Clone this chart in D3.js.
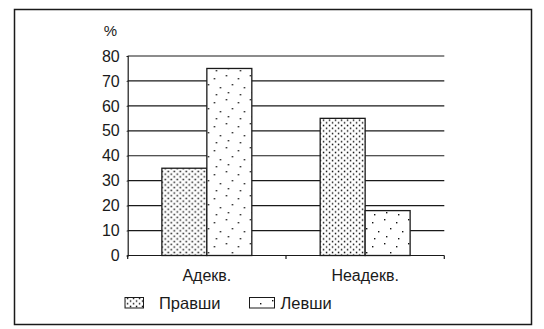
<!DOCTYPE html>
<html>
<head>
<meta charset="utf-8">
<script src="https://cdn.jsdelivr.net/npm/d3@7"></script>
<style>
  body { margin: 0; background: #fff; }
  text { font-family: "Liberation Sans", Arial, sans-serif; fill: #1a1a1a; }
</style>
</head>
<body>
<svg id="chart"></svg>
<script>
const width = 544;
const height = 329;

const categories = ['Адекв.', 'Неадекв.'];
const series = ['Правши', 'Левши'];
const rightHanded = [35, 55];
const leftHanded = [75, 18];
const yTicks = [0, 10, 20, 30, 40, 50, 60, 70, 80];

const svg = d3.select('#chart')
    .attr('width', width)
    .attr('height', height);

// patterns: dense dots for right-handed, sparse for left-handed
const defs = svg.append('defs');
const dense = defs.append('pattern').attr('id', 'dense')
    .attr('patternUnits', 'userSpaceOnUse')
    .attr('width', 6).attr('height', 5.4);
dense.append('rect').attr('width', 6).attr('height', 5.4).attr('fill', '#fff');
dense.append('rect').attr('x', 0.8).attr('y', 0.6).attr('width', 1.5).attr('height', 1.5).attr('fill', '#111');
dense.append('rect').attr('x', 3.8).attr('y', 3.3).attr('width', 1.5).attr('height', 1.5).attr('fill', '#111');

const sparse = defs.append('pattern').attr('id', 'sparse')
    .attr('patternUnits', 'userSpaceOnUse')
    .attr('width', 24).attr('height', 24);
sparse.append('rect').attr('width', 24).attr('height', 24).attr('fill', '#fff');
[[2, 3], [14, 6], [8, 12], [20, 15], [4, 20], [16, 22]].forEach(p => {
    sparse.append('rect').attr('x', p[0]).attr('y', p[1])
        .attr('width', 1.4).attr('height', 1.4).attr('fill', '#111');
});

const fills = {'Правши': 'url(#dense)', 'Левши': 'url(#sparse)'};

// outer frame
svg.append('rect')
    .attr('x', 14.5).attr('y', 9.5)
    .attr('width', 517).attr('height', 315)
    .attr('fill', 'none').attr('stroke', '#1a1a1a').attr('stroke-width', 1.5);

const x = d3.scaleBand().domain(categories).range([127.7, 444.3]);
const xSub = d3.scaleBand().domain(series)
    .range([0, x.bandwidth()]).paddingOuter(0.76).paddingInner(0);
const y = d3.scaleLinear().domain([0, 80]).range([255.5, 56]);

// gridlines
svg.append('g').selectAll('line').data(yTicks.filter(d => d > 0)).enter().append('line')
    .attr('x1', 127.7).attr('x2', 444.3)
    .attr('y1', d => y(d)).attr('y2', d => y(d))
    .attr('stroke', '#1a1a1a').attr('stroke-width', 1.2);

// bars
const data = categories.map((c, i) => ({cat: c, values: [
    {key: 'Правши', value: rightHanded[i]},
    {key: 'Левши', value: leftHanded[i]}
]}));

svg.append('g').selectAll('g').data(data).enter().append('g')
    .attr('transform', d => `translate(${x(d.cat)},0)`)
    .selectAll('rect').data(d => d.values).enter().append('rect')
    .attr('x', d => xSub(d.key))
    .attr('y', d => y(d.value))
    .attr('width', xSub.bandwidth())
    .attr('height', d => y(0) - y(d.value))
    .attr('fill', d => fills[d.key])
    .attr('stroke', '#1a1a1a').attr('stroke-width', 1.3);

// y axis
const yAxis = svg.append('g').attr('transform', 'translate(127.7,0)')
    .call(d3.axisLeft(y).tickValues(yTicks).tickSize(1).tickPadding(7));
yAxis.select('.domain').attr('stroke', '#1a1a1a').attr('stroke-width', 1.2);
yAxis.selectAll('.tick line').attr('stroke', '#1a1a1a');
yAxis.selectAll('text').attr('font-size', 16).attr('font-family', '"Liberation Sans", Arial, sans-serif')
    .attr('fill', '#1a1a1a');

// x axis
const xAxisG = svg.append('g').attr('transform', `translate(0,${y(0)})`);
xAxisG.append('line').attr('x1', 127.7).attr('x2', 444.3)
    .attr('stroke', '#1a1a1a').attr('stroke-width', 1.2);
xAxisG.selectAll('.xt').data([127.7, 127.7 + x.bandwidth(), 444.3]).enter().append('line')
    .attr('x1', d => d).attr('x2', d => d).attr('y1', 0).attr('y2', 3.5)
    .attr('stroke', '#1a1a1a').attr('stroke-width', 1.2);
xAxisG.selectAll('.xl').data(categories).enter().append('text')
    .attr('x', d => x(d) + x.bandwidth() / 2)
    .attr('y', 25)
    .attr('text-anchor', 'middle')
    .attr('font-size', 16)
    .text(d => d);

// unit label
svg.append('text').attr('x', 117).attr('y', 35.5)
    .attr('text-anchor', 'end').attr('font-size', 15).text('%');

// legend
const legendItems = [
    {key: 'Правши', sx: 125, sw: 18.5, tx: 159},
    {key: 'Левши', sx: 249.5, sw: 25, tx: 280.5}
];
const legend = svg.append('g');
legend.selectAll('rect').data(legendItems).enter().append('rect')
    .attr('x', d => d.sx).attr('y', 297.5)
    .attr('width', d => d.sw).attr('height', 10.5)
    .attr('fill', d => fills[d.key])
    .attr('stroke', '#1a1a1a').attr('stroke-width', 1);
legend.selectAll('text').data(legendItems).enter().append('text')
    .attr('x', d => d.tx).attr('y', 308.5)
    .attr('font-size', 16.5)
    .text(d => d.key);
</script>
</body>
</html>
